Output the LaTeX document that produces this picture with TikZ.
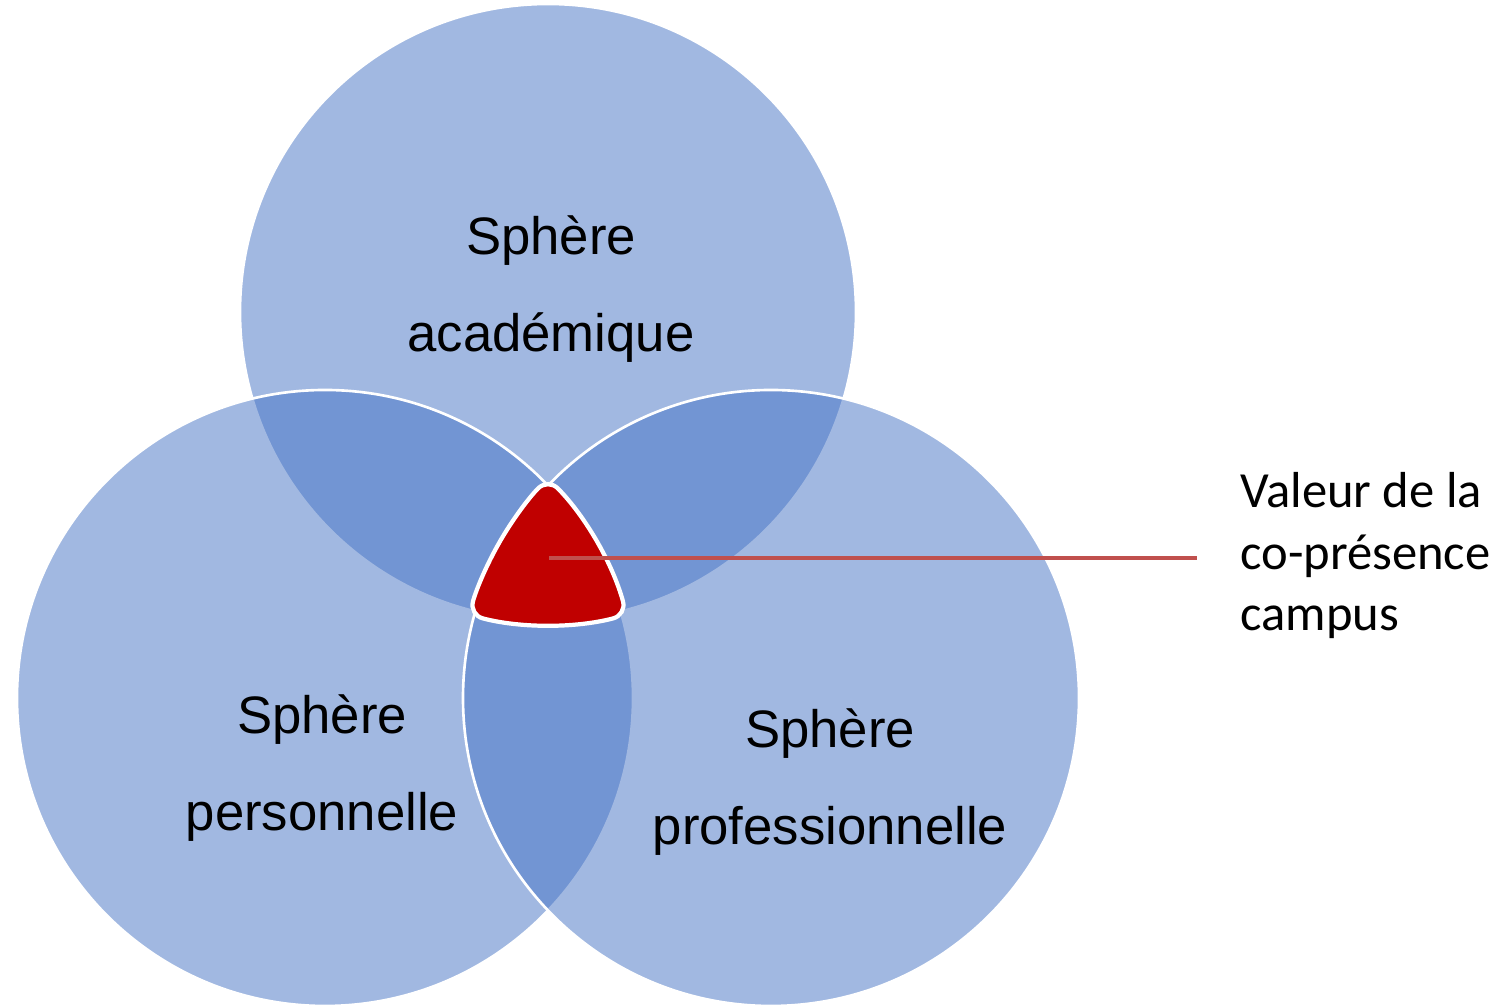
\documentclass[tikz,border=0pt]{standalone}
\usepackage{fontspec}
\usepackage{xcolor}
\setmainfont{Liberation Sans}
\newfontfamily\calloutfont{Carlito}

\definecolor{spherefill}{HTML}{4472C4}
\definecolor{corered}{HTML}{C00000}
\definecolor{calloutred}{HTML}{C0504D}

\tikzset{
  sphere/.style={fill=spherefill, fill opacity=0.5, draw=white, line width=1.5pt},
  spherelabel/.style={align=center, inner sep=0pt, font=\fontsize{30}{55}\selectfont},
  corebox/.style={fill=corered, draw=white, line width=2.4pt, line cap=round, rounded corners=8pt},
}

\begin{document}
\begin{tikzpicture}[x=0.02cm, y=0.02cm]
        \useasboundingbox (0,0) rectangle (1499,1006);
        \pgfmathsetmacro{\rad}{308}
        \pgfmathsetmacro{\corerad}{313}

        % the three spheres
        \filldraw[sphere] (548,694) circle (\rad);
        \filldraw[sphere] (325,308) circle (\rad);
        \filldraw[sphere] (771,308) circle (\rad);

        % common part of the three
        \filldraw[corebox] (499.93,464.5) arc[start angle=150, end angle=164.60, radius=\corerad]
            arc[start angle=255.43, end angle=284.57, radius=\corerad]
            arc[start angle=15.40, end angle=44.56, radius=\corerad]
            arc[start angle=135.44, end angle=150, radius=\corerad];

        \node[spherelabel] (academic) at (551,717) {Sphère\\académique};
        \node[spherelabel] (personal) at (322,238) {Sphère\\personnelle};
        \node[spherelabel] (professional) at (830,224) {Sphère\\professionnelle};

        \node[anchor=west, align=left, inner sep=0pt, font=\calloutfont\fontsize{28.8}{35}\selectfont] (valeur) at (1240,450) {Valeur de la\\co-présence\\campus};

        \coordinate (core) at (549,448);
        \coordinate (calloutend) at (1197,448);
        \draw[calloutred, line width=2.5pt] (core) -- (calloutend);
    \end{tikzpicture}
\end{document}
